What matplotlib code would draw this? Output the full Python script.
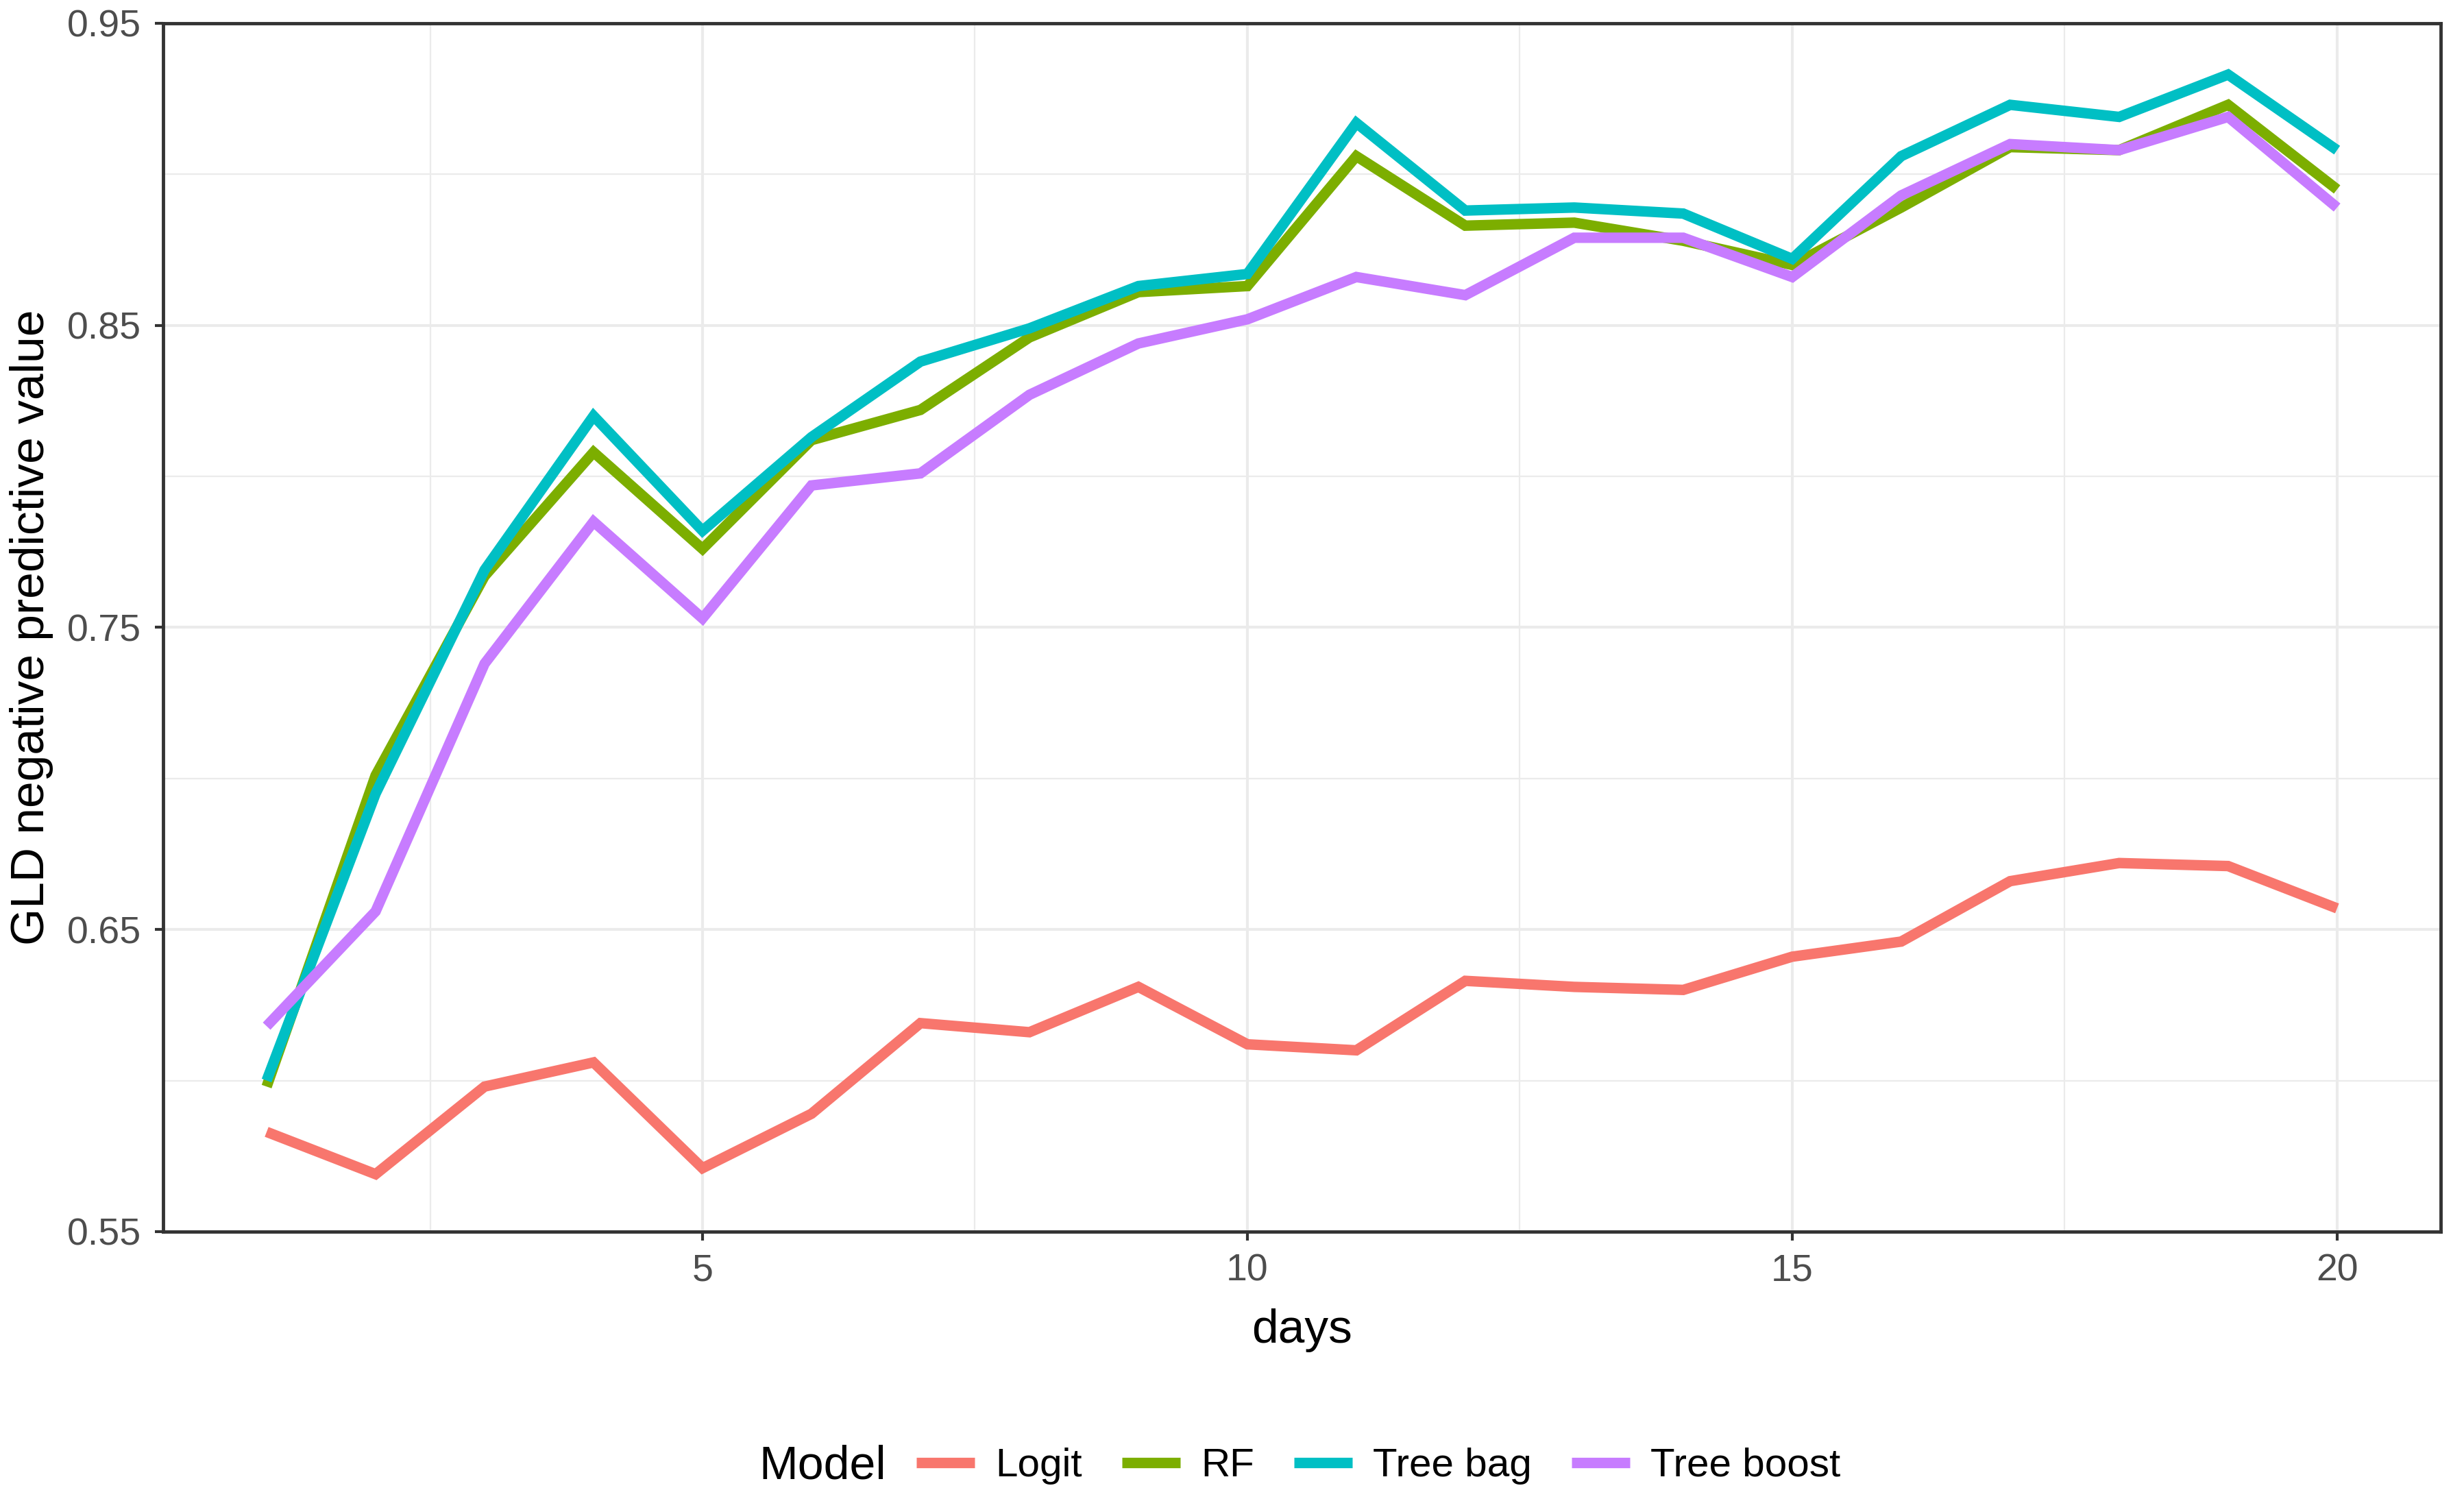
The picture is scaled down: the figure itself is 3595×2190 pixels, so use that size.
import matplotlib
matplotlib.use('Agg')
import matplotlib.pyplot as plt
from matplotlib.ticker import MultipleLocator, FormatStrFormatter

plt.rcParams['font.family'] = ['Liberation Sans', 'DejaVu Sans']

# data
days = list(range(1, 21))
logit = [0.583, 0.569, 0.598, 0.606, 0.571, 0.589, 0.619, 0.616, 0.631, 0.612,
         0.610, 0.633, 0.631, 0.630, 0.641, 0.646, 0.666, 0.672, 0.671, 0.657]
rf = [0.598, 0.701, 0.767, 0.808, 0.776, 0.812, 0.822, 0.846, 0.861, 0.863,
      0.906, 0.883, 0.884, 0.878, 0.870, 0.889, 0.909, 0.908, 0.923, 0.895]
tree_bag = [0.600, 0.695, 0.769, 0.820, 0.782, 0.813, 0.838, 0.849, 0.863, 0.867,
            0.917, 0.888, 0.889, 0.887, 0.872, 0.906, 0.923, 0.919, 0.933, 0.908]
tree_boost = [0.618, 0.656, 0.738, 0.785, 0.753, 0.797, 0.801, 0.827, 0.844, 0.852,
              0.866, 0.860, 0.879, 0.879, 0.866, 0.893, 0.910, 0.908, 0.919, 0.889]

models = ['Logit', 'RF', 'Tree bag', 'Tree boost']
series = [logit, rf, tree_bag, tree_boost]
colors = ['#F8766D', '#7CAE00', '#00BFC4', '#C77CFF']

fig = plt.figure(figsize=(35.95, 21.9), dpi=100)
ax = fig.add_axes([0.0662, 0.1795, 0.9243, 0.805])

for name, vals, col in zip(models, series, colors):
    ax.plot(days, vals, color=col, lw=11, label=name,
            solid_joinstyle='miter', solid_capstyle='butt')

# theme_bw look
ax.set_xlim(0.05, 20.95)
ax.set_ylim(0.55, 0.95)
ax.xaxis.set_major_locator(MultipleLocator(5))
ax.xaxis.set_minor_locator(MultipleLocator(2.5))
ax.set_yticks([0.55, 0.65, 0.75, 0.85, 0.95])
ax.set_yticks([0.6, 0.7, 0.8, 0.9], minor=True)
ax.yaxis.set_major_formatter(FormatStrFormatter('%.2f'))
ax.grid(which='major', color='#EBEBEB', lw=3)
ax.grid(which='minor', color='#EBEBEB', lw=1.6)
ax.set_axisbelow(True)
for s in ax.spines.values():
    s.set_color('#333333')
    s.set_linewidth(3.5)
ax.tick_params(which='major', length=9, width=3, color='#333333',
               labelsize=40, labelcolor='#4D4D4D', pad=14)
ax.tick_params(which='minor', length=0)

ax.set_xlabel('days', fontsize=50, labelpad=20)
ax.set_ylabel('GLD negative predictive value', fontsize=50, labelpad=14)

# legend at the bottom, title on the left
leg_y = 1 - 2139 / 2190
fig.text(1107 / 3595, leg_y, 'Model', fontsize=49, ha='left', va='center')
fig.legend(loc='center left', bbox_to_anchor=(1337 / 3595, leg_y), ncol=4,
           frameon=False, fontsize=42, handlelength=1.46, handletextpad=0.51,
           columnspacing=1.0, borderpad=0, borderaxespad=0)

fig.savefig('out.png', dpi=100, facecolor='white')
